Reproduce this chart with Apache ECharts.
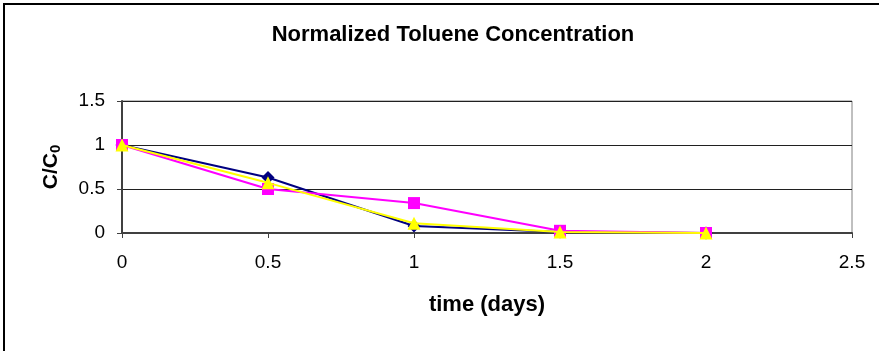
<!DOCTYPE html>
<html>
<head>
<meta charset="utf-8">
<script src="https://cdn.jsdelivr.net/npm/echarts@6/dist/echarts.min.js"></script>
<style>
  html, body { margin: 0; padding: 0; background: #fff; }
  #chart { width: 879px; height: 351px; }
</style>
</head>
<body>
<div id="chart"></div>
<script>
// Sampling times (days)
const timeDays = [0, 0.5, 1, 1.5, 2];
// Normalized concentration C/C0 for each replicate
const seriesNavy = [1, 0.63, 0.08, 0.01, 0];
const seriesMagenta = [1, 0.5, 0.34, 0.025, 0];
const seriesYellow = [1, 0.57, 0.11, 0.01, 0];

const font = 'Liberation Sans, Arial, sans-serif';

function pairs(xs, ys) { return xs.map((x, i) => [x, ys[i]]); }

const chart = echarts.init(document.getElementById('chart'));
chart.setOption({
  backgroundColor: '#fff',
  animation: false,
  graphic: [{
    type: 'rect',
    shape: { x: 4, y: 4, width: 900, height: 380 },
    style: { fill: 'none', stroke: '#000', lineWidth: 2 },
    silent: true, z: -1
  }],
  title: {
    text: 'Normalized Toluene Concentration',
    left: 448, top: 19, textAlign: 'center',
    textStyle: { fontFamily: font, fontWeight: 'bold', fontSize: 22, color: '#000' }
  },
  grid: {
    left: 122, right: 27, top: 101, bottom: 118,
    show: true, borderColor: '#808080', borderWidth: 1
  },
  xAxis: {
    type: 'value', min: 0, max: 2.5, interval: 0.5,
    name: 'time (days)', nameLocation: 'middle', nameGap: 61,
    nameTextStyle: { fontFamily: font, fontWeight: 'bold', fontSize: 22, color: '#000' },
    axisLine: { lineStyle: { color: '#404040', width: 2 } },
    axisTick: { show: true, inside: false, length: 5, lineStyle: { color: '#404040' } },
    axisLabel: { fontFamily: font, fontSize: 19, color: '#000', margin: 20 },
    splitLine: { show: false }
  },
  yAxis: {
    type: 'value', min: 0, max: 1.5, interval: 0.5,
    name: 'C/C{sub|0}', nameLocation: 'middle', nameGap: 59, nameRotate: 90,
    nameTextStyle: {
      fontFamily: font, fontWeight: 'bold', fontSize: 21, color: '#000',
      rich: { sub: { fontFamily: font, fontWeight: 'bold', fontSize: 15, color: '#000', verticalAlign: 'bottom', padding: [8, 0, 0, 0] } }
    },
    axisLine: { show: true, lineStyle: { color: '#404040', width: 2 } },
    axisTick: { show: true, inside: false, length: 5, lineStyle: { color: '#404040' } },
    axisLabel: { fontFamily: font, fontSize: 19, color: '#000', margin: 17 },
    splitLine: { show: true, lineStyle: { color: '#202020', width: 1 } }
  },
  series: [
    {
      type: 'line', data: pairs(timeDays, seriesNavy),
      symbol: 'diamond', symbolSize: 13,
      lineStyle: { color: '#000080', width: 2 },
      itemStyle: { color: '#000080' }, z: 2
    },
    {
      type: 'line', data: pairs(timeDays, seriesMagenta),
      symbol: 'rect', symbolSize: 12,
      lineStyle: { color: '#ff00ff', width: 2 },
      itemStyle: { color: '#ff00ff' }, z: 3
    },
    {
      type: 'line', data: pairs(timeDays, seriesYellow),
      symbol: 'triangle', symbolSize: 13,
      lineStyle: { color: '#ffff00', width: 2 },
      itemStyle: { color: '#ffff00' }, z: 4
    }
  ]
});
</script>
</body>
</html>
